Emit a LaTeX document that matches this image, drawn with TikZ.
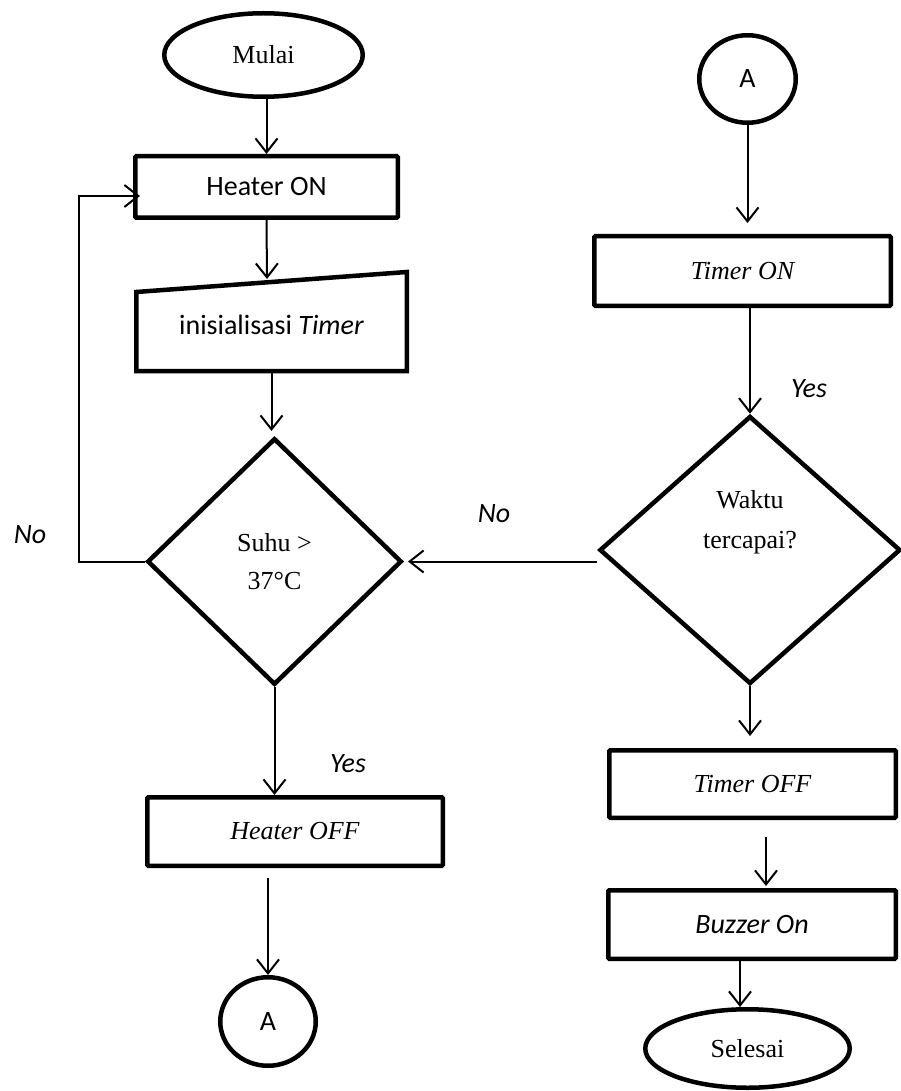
\documentclass[tikz,border=0pt]{standalone}
\usepackage{fontspec}
\setmainfont{Liberation Serif}
\setsansfont{Carlito}
\usetikzlibrary{shapes.geometric,arrows.meta,calc}
\begin{document}
\begin{tikzpicture}[x=1pt,y=-1pt,
  shp/.style={draw, line width=4.5pt, inner sep=0pt},
  box/.style={shp, rectangle, rounded corners=1pt},
  term/.style={shp, ellipse},
  dec/.style={shp, diamond, align=center},
  serif/.style={font=\fontsize{26}{38}\selectfont},
  serifit/.style={font=\itshape\fontsize{26}{38}\selectfont},
  sans/.style={font=\sffamily\fontsize{28}{34}\selectfont},
  sansit/.style={font=\sffamily\itshape\fontsize{28}{34}\selectfont},
  lbl/.style={font=\sffamily\itshape\fontsize{28}{34}\selectfont, inner sep=0pt},
  arr/.style={line width=2pt, -{Straight Barb[length=14pt,width=22pt,line width=2pt]}},
  conn/.style={line width=2pt},
]
\useasboundingbox (0,0) rectangle (900,1091);

% ---------- left column ----------
\node[term, serif, minimum width=198.5pt, minimum height=83.5pt] (mulai) at (263.5,55) {Mulai};
\node[box, sans, minimum width=262.5pt, minimum height=61.5pt] (heaterON) at (266.5,187) {Heater ON};

\draw[line width=4.5pt, line join=miter] (136.25,292) -- (406.75,272) -- (406.75,371) -- (136.25,371) -- cycle;
\node[sans, inner sep=0pt, minimum width=270.5pt, minimum height=92pt] (init) at (271.5,325) {inisialisasi \textit{Timer}};
\coordinate (initTop) at (267,279);

\node[dec, serif, minimum width=254.5pt, minimum height=246.5pt] (suhu) at (274.5,561.5) {Suhu >\\37°C};
\node[box, serifit, minimum width=295.5pt, minimum height=68.5pt] (heaterOFF) at (295,831.5) {Heater OFF};
\node[term, sans, minimum width=95.5pt, minimum height=88.5pt] (aL) at (268,1021.5) {A};

% ---------- right column ----------
\node[term, sans, minimum width=96.5pt, minimum height=87.5pt] (aR) at (747.5,79) {A};
\node[box, serifit, minimum width=296.5pt, minimum height=69.5pt] (timerON) at (742.5,271) {Timer ON};
\node[dec, font=\fontsize{26}{40}\selectfont, minimum width=301pt, minimum height=268pt] (waktu) at (750,550) {Waktu\\tercapai?\\[22pt]};
\node[box, serifit, minimum width=286.5pt, minimum height=67.5pt] (timerOFF) at (752.5,784) {Timer OFF};
\node[box, sansit, minimum width=287.5pt, minimum height=68.5pt] (buzzer) at (752,924.5) {Buzzer On};
\node[term, serif, minimum width=204.5pt, minimum height=78.5pt] (selesai) at (747.5,1048.5) {Selesai};

% ---------- labels ----------
\node[lbl] (noL) at (30,535) {No};
\node[lbl] (noM) at (494,514) {No};
\node[lbl] (yesR) at (809,389) {Yes};
\node[lbl] (yesL) at (348,764) {Yes};

% ---------- connectors ----------
\coordinate (loopTop) at (79,196);
\draw[arr] (mulai.south -| heaterON.north) -- (heaterON.north);
\draw[arr] (heaterON.south) -- (initTop);
\draw[arr, shorten >=5pt] (init.south) -- (init.south |- suhu.north);
\draw[arr, shorten >=-7pt] (suhu.west) -| (loopTop) -- (loopTop -| heaterON.west);
\draw[arr] (suhu.south) -- (suhu.south |- heaterOFF.north);
\draw[arr, shorten <=10pt] (heaterOFF.south -| aL.north) -- (aL.north);

\draw[arr, shorten >=11pt] (aR.south) -- (aR.south |- timerON.north);
\draw[arr] (timerON.south -| waktu.north) -- (waktu.north);
\draw[arr, shorten >=4pt] (waktu.west |- suhu.east) -- (suhu.east);
\draw[arr, shorten >=12pt] (waktu.south) -- (waktu.south |- timerOFF.north);
\draw[arr, shorten <=17pt, shorten >=2pt] ($(timerOFF.south)+(13.5,0)$) -- ($(buzzer.north)+(14,0)$);
\draw[arr] ($(buzzer.south)+(-12,0)$) -- ($(selesai.north)+(-7.5,0)$);
\end{tikzpicture}
\end{document}
